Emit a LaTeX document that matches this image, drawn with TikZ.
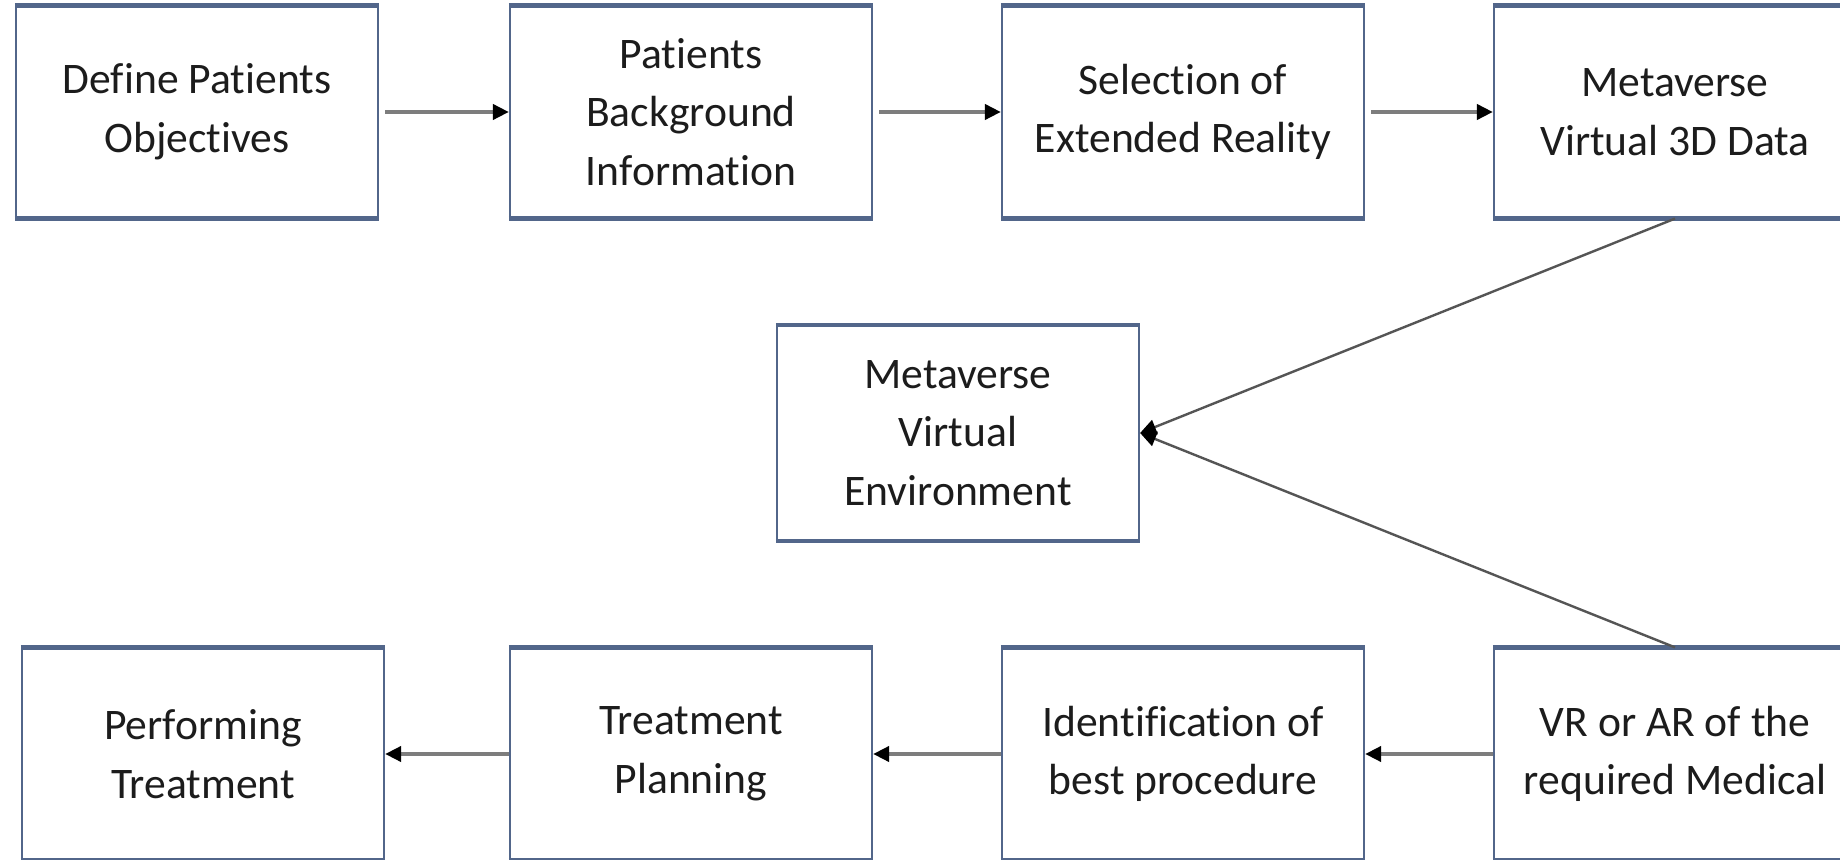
\documentclass[tikz,border=0pt]{standalone}
\usepackage{fontspec}
\setmainfont[Ligatures=CommonOff]{Carlito}
\usetikzlibrary{arrows.meta}
\definecolor{boxline}{RGB}{82,102,138}
\definecolor{flowline}{RGB}{125,125,125}
\definecolor{diagline}{RGB}{85,85,85}
\definecolor{txt}{RGB}{28,28,28}
\tikzset{
  stepbox/.style={draw=boxline, line width=1.1pt, fill=white, inner sep=0pt,
    minimum width=181pt, minimum height=105.5pt, align=center, text=txt,
    font=\fontsize{21.8pt}{29.3pt}\selectfont},
  boxedge/.style={draw=boxline, line width=2.2pt},
  tipstyle/.style={-{Triangle[length=8pt,width=7.5pt,color=black]}},
  flow/.style={draw=flowline, line width=1.9pt, tipstyle},
  diag/.style={draw=diagline, line width=1.2pt, tipstyle},
}
\begin{document}
\begin{tikzpicture}[x=0.5pt,y=-0.5pt]
  \fill[white] (0,0) rectangle (1840,860);
  \useasboundingbox (0,0) rectangle (1840,860);
  \clip (0,0) rectangle (1840,860);

  % top row
  \node[stepbox] (b1) at (197,112) {Define Patients\\Objectives};
  \node[stepbox] (b2) at (691,112) {Patients\\Background\\Information};
  \node[stepbox] (b3) at (1183,112) {Selection of\\Extended Reality};
  \node[stepbox] (b4) at (1675,112) {Metaverse\\Virtual 3D Data};

  % middle
  \node[stepbox, minimum height=107pt] (mid) at (958,433) {Metaverse\\Virtual\\Environment};

  % bottom row
  \node[stepbox] (b5) at (203,754) {Performing\\Treatment};
  \node[stepbox] (b6) at (691,754) {Treatment\\Planning};
  \node[stepbox] (b7) at (1183,754) {Identification of\\best procedure};
  \node[stepbox] (b8) at (1675,754) {VR or AR of the\\required Medical};

  % heavier top and bottom borders of every box
  \foreach \n in {b1,b2,b3,b4,mid,b5,b6,b7,b8} {
    \draw[boxedge] (\n.north west) -- (\n.north east);
    \draw[boxedge] (\n.south west) -- (\n.south east);
  }

  % connectors
  \draw[flow, shorten <=3pt] (b1.east) -- (b2.west);
  \draw[flow, shorten <=3pt] (b2.east) -- (b3.west);
  \draw[flow, shorten <=3pt] (b3.east) -- (b4.west);
  \draw[diag] (b4.south) -- (mid.east);
  \draw[diag] (b8.north) -- (mid.east);
  \draw[flow] (b8.west) -- (b7.east);
  \draw[flow] (b7.west) -- (b6.east);
  \draw[flow] (b6.west) -- (b5.east);
\end{tikzpicture}
\end{document}
